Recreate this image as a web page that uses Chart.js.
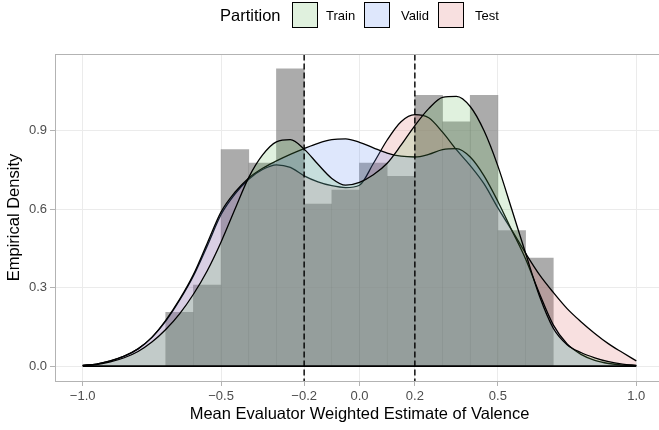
<!DOCTYPE html>
<html>
<head>
<meta charset="utf-8">
<script src="https://cdn.jsdelivr.net/npm/chart.js@4.4.1/dist/chart.umd.min.js"></script>
<style>
  html, body { margin: 0; padding: 0; background: #fff; overflow: hidden; }
  #wrap { position: relative; width: 664px; height: 430px; }
  #legend { position: absolute; left: 0; top: 0; width: 664px; height: 32px;
            font-family: "Liberation Sans", Arial, Helvetica, sans-serif; color: #000; }
  #legend span { position: absolute; top: 15px; transform: translateY(-50%); white-space: nowrap; }
  #legend .title { font-size: 16.5px; }
  #legend .lab { font-size: 13px; }
  #legend .key { position: absolute; top: 2px; width: 26px; height: 26px; box-sizing: border-box;
                 border: 1.3px solid #000; }
</style>
</head>
<body>
<div id="wrap">
  <canvas id="density-chart" width="664" height="430"></canvas>
  <div id="legend"></div>
</div>
<script>
// density curves, every 0.05
const gridX = [-1.0, -0.95, -0.9, -0.85, -0.8, -0.75, -0.7, -0.65, -0.6, -0.55, -0.5,
               -0.45, -0.4, -0.35, -0.3, -0.25, -0.2, -0.15, -0.1, -0.05, 0.0,
               0.05, 0.1, 0.15, 0.2, 0.25, 0.3, 0.35, 0.4, 0.45, 0.5,
               0.55, 0.6, 0.65, 0.7, 0.75, 0.8, 0.85, 0.9, 0.95, 1.0];

const trainDensity = [0.002, 0.006, 0.016, 0.032, 0.056, 0.092, 0.140, 0.200, 0.275, 0.365, 0.475,
                      0.600, 0.722, 0.808, 0.858, 0.866, 0.830, 0.772, 0.718, 0.692, 0.703,
                      0.732, 0.776, 0.845, 0.920, 0.985, 1.028, 1.032, 0.993, 0.900, 0.765,
                      0.600, 0.432, 0.268, 0.145, 0.082, 0.052, 0.032, 0.017, 0.008, 0.003];

const validDensity = [0.003, 0.008, 0.020, 0.038, 0.066, 0.110, 0.175, 0.255, 0.350, 0.470, 0.590,
                      0.665, 0.720, 0.757, 0.785, 0.810, 0.832, 0.852, 0.866, 0.869, 0.856,
                      0.835, 0.815, 0.803, 0.800, 0.810, 0.828, 0.832, 0.800, 0.728, 0.630,
                      0.520, 0.410, 0.278, 0.158, 0.085, 0.045, 0.022, 0.010, 0.004, 0.002];

const testDensity = [0.003, 0.008, 0.020, 0.038, 0.066, 0.110, 0.172, 0.252, 0.345, 0.460, 0.580,
                     0.658, 0.715, 0.752, 0.770, 0.760, 0.728, 0.705, 0.690, 0.683, 0.692,
                     0.775, 0.865, 0.935, 0.962, 0.950, 0.895, 0.828, 0.767, 0.697, 0.605,
                     0.520, 0.432, 0.350, 0.282, 0.220, 0.170, 0.125, 0.085, 0.052, 0.020];

// histogram of all ratings, bin width 0.1
const binCenters = [-0.65, -0.55, -0.45, -0.35, -0.25, -0.15, -0.05, 0.05, 0.15, 0.25, 0.35, 0.45, 0.55, 0.65];
const histDensity = [0.206, 0.310, 0.828, 0.777, 1.137, 0.620, 0.673, 0.777, 0.726, 1.036, 0.934, 1.036, 0.518, 0.413];

const cutoffs = [-0.2, 0.2];
const xTicks = [-1.0, -0.5, -0.2, 0.0, 0.2, 0.5, 1.0];
const yTicks = [0.0, 0.3, 0.6, 0.9];

const partitions = ["Train", "Valid", "Test"];
const fills = ["rgba(100,185,90,0.2)", "rgba(90,135,240,0.2)", "rgba(220,100,100,0.2)"];

const FONT = '"Liberation Sans", Arial, Helvetica, sans-serif';
Chart.defaults.font.family = FONT;

const fmt = v => Number(v).toFixed(1).replace('-', '\u2212');
const pts = ys => gridX.map((x, i) => ({ x: x, y: ys[i] }));

function densitySet(label, ys, fill, order) {
    return {
        type: 'line',
        label: label,
        data: pts(ys),
        fill: 'origin',
        backgroundColor: fill,
        borderColor: '#000',
        borderWidth: 1.3,
        pointRadius: 0,
        cubicInterpolationMode: 'monotone',
        order: order
    };
}

const datasets = [
    {
        type: 'bar',
        label: 'hist',
        data: binCenters.map((x, i) => ({ x: x, y: histDensity[i] })),
        backgroundColor: 'rgba(128,128,128,0.66)',
        borderWidth: 0,
        barPercentage: 1,
        categoryPercentage: 1,
        order: 10
    },
    densitySet(partitions[2], testDensity, fills[2], 3),
    densitySet(partitions[1], validDensity, fills[1], 2),
    densitySet(partitions[0], trainDensity, fills[0], 1),
    {
        type: 'line',
        label: 'baseline',
        data: [{ x: gridX[0], y: 0 }, { x: gridX[gridX.length - 1], y: 0 }],
        borderColor: '#000',
        borderWidth: 1.6,
        pointRadius: 0,
        fill: false,
        order: 0
    }
];

cutoffs.forEach(c => {
    datasets.push({
        type: 'line',
        label: 'cutoff',
        data: [{ x: c, y: -1 }, { x: c, y: 2 }],
        borderColor: '#000',
        borderWidth: 1.4,
        borderDash: [6, 3],
        pointRadius: 0,
        fill: false,
        order: 0
    });
});

// ggplot-like panel border
const panelBorder = {
    id: 'panelBorder',
    afterDatasetsDraw(chart) {
        const a = chart.chartArea, ctx = chart.ctx;
        ctx.save();
        ctx.strokeStyle = '#b3b3b3';
        ctx.lineWidth = 1;
        ctx.strokeRect(a.left + 0.5, a.top + 0.5, a.right - a.left - 1, a.bottom - a.top);
        ctx.restore();
    }
};

const tickFont = { size: 13, family: FONT };
const titleFont = { size: 16.5, family: FONT };

new Chart(document.getElementById("density-chart"), {
    type: 'line',
    data: { datasets: datasets },
    plugins: [panelBorder],
    options: {
        responsive: false,
        animation: false,
        layout: { padding: { top: 54, left: 0, right: 0, bottom: 0 } },
        plugins: {
            legend: { display: false },
            tooltip: { enabled: false }
        },
        scales: {
            x: {
                type: 'linear',
                min: -1.1,
                max: 1.1,
                offset: false,
                afterBuildTicks: s => { s.ticks = xTicks.map(v => ({ value: v })); },
                afterFit: s => { s.height = 49; },
                ticks: { callback: v => fmt(v), color: '#4d4d4d', font: tickFont, padding: 3,
                         maxRotation: 0, autoSkip: false },
                grid: { offset: false, color: '#ebebeb', lineWidth: 1, tickColor: '#b3b3b3', tickLength: 5 },
                border: { display: false },
                title: { display: true, text: 'Mean Evaluator Weighted Estimate of Valence',
                         color: '#000', font: titleFont, padding: { top: 0, bottom: 6 } }
            },
            y: {
                type: 'linear',
                min: -0.0569,
                max: 1.1939,
                afterBuildTicks: s => { s.ticks = yTicks.map(v => ({ value: v })); },
                afterFit: s => { s.width = 55; },
                ticks: { callback: v => fmt(v), color: '#4d4d4d', font: tickFont, padding: 3 },
                grid: { offset: false, color: '#ebebeb', lineWidth: 1, tickColor: '#b3b3b3', tickLength: 5 },
                border: { display: false },
                title: { display: true, text: 'Empirical Density', color: '#000', font: titleFont,
                         padding: { top: 5, bottom: 0 } }
            }
        }
    }
});

// legend: "Partition" + three keys
const legend = document.getElementById('legend');
const items = [
    ['title', 'Partition', 220],
    ['key', fills[0], 291.5], ['lab', partitions[0], 326],
    ['key', fills[1], 364], ['lab', partitions[1], 401],
    ['key', fills[2], 438], ['lab', partitions[2], 475]
];
items.forEach(([kind, val, left]) => {
    let el;
    if (kind === 'key') {
        el = document.createElement('div');
        el.className = 'key';
        el.style.background = val;
    } else {
        el = document.createElement('span');
        el.className = kind;
        el.textContent = val;
    }
    el.style.left = left + 'px';
    legend.appendChild(el);
});
</script>
</body>
</html>
